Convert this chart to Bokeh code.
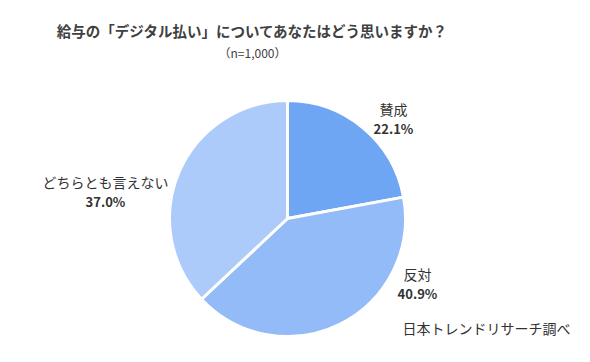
import numpy as np
from bokeh.plotting import figure
from bokeh.models import ColumnDataSource, Range1d
from bokeh.core.properties import value
from bokeh.embed import file_html
from bokeh.resources import INLINE

title = "給与の「デジタル払い」についてあなたはどう思いますか？"
subtitle = "（n=1,000）"
source_note = "日本トレンドリサーチ調べ"
categories = ["賛成", "反対", "どちらとも言えない"]
shares = [22.1, 40.9, 37.0]
colors = ["#6fa6f4", "#93bbf7", "#adcbfa"]

W, H = 574, 346
p = figure(width=W, height=H, output_backend="svg", toolbar_location=None,
           x_range=Range1d(0, W), y_range=Range1d(0, H), min_border=0)
p.axis.visible = False
p.grid.visible = False
p.outline_line_color = None
p.background_fill_color = "white"

# image coords -> data coords
def X(px):
    return px
def Y(py):
    return 346 - py

cx, cy, r = X(287), Y(218), 118
frac = np.array(shares) / sum(shares)
cum = np.concatenate([[0], np.cumsum(frac)])
start = np.pi / 2 - 2 * np.pi * cum[:-1]
end = np.pi / 2 - 2 * np.pi * cum[1:]
src = ColumnDataSource(dict(start=start, end=end, color=colors))
p.wedge(x=cx, y=cy, radius=r, start_angle="start", end_angle="end",
        direction="clock", fill_color="color", line_color="white",
        line_width=3, source=src)

font = value("Noto Sans CJK JP")
tc = "#333333"

p.text(x=[X(252)], y=[Y(30)], text=[title], text_font=font, text_font_size="14.5px",
       text_font_style="bold", text_color="#404040", text_align="center", text_baseline="middle")
p.text(x=[X(252)], y=[Y(52)], text=[subtitle], text_font=font, text_font_size="12px",
       text_color="#404040", text_align="center", text_baseline="middle")

label_pos = [(393, 108), (417, 273), (105, 181)]
for (lx, ly), cat, s in zip(label_pos, categories, shares):
    p.text(x=[X(lx)], y=[Y(ly)], text=[cat], text_font=font, text_font_size="14px",
           text_color=tc, text_align="center", text_baseline="middle")
    p.text(x=[X(lx)], y=[Y(ly + 20)], text=[f"{s:.1f}%"], text_font=font,
           text_font_size="13px", text_font_style="bold", text_color=tc,
           text_align="center", text_baseline="middle")

p.text(x=[X(486)], y=[Y(327)], text=[source_note], text_font=font, text_font_size="14px",
       text_color=tc, text_align="center", text_baseline="middle")

open("out.html", "w").write(file_html(p, INLINE))
